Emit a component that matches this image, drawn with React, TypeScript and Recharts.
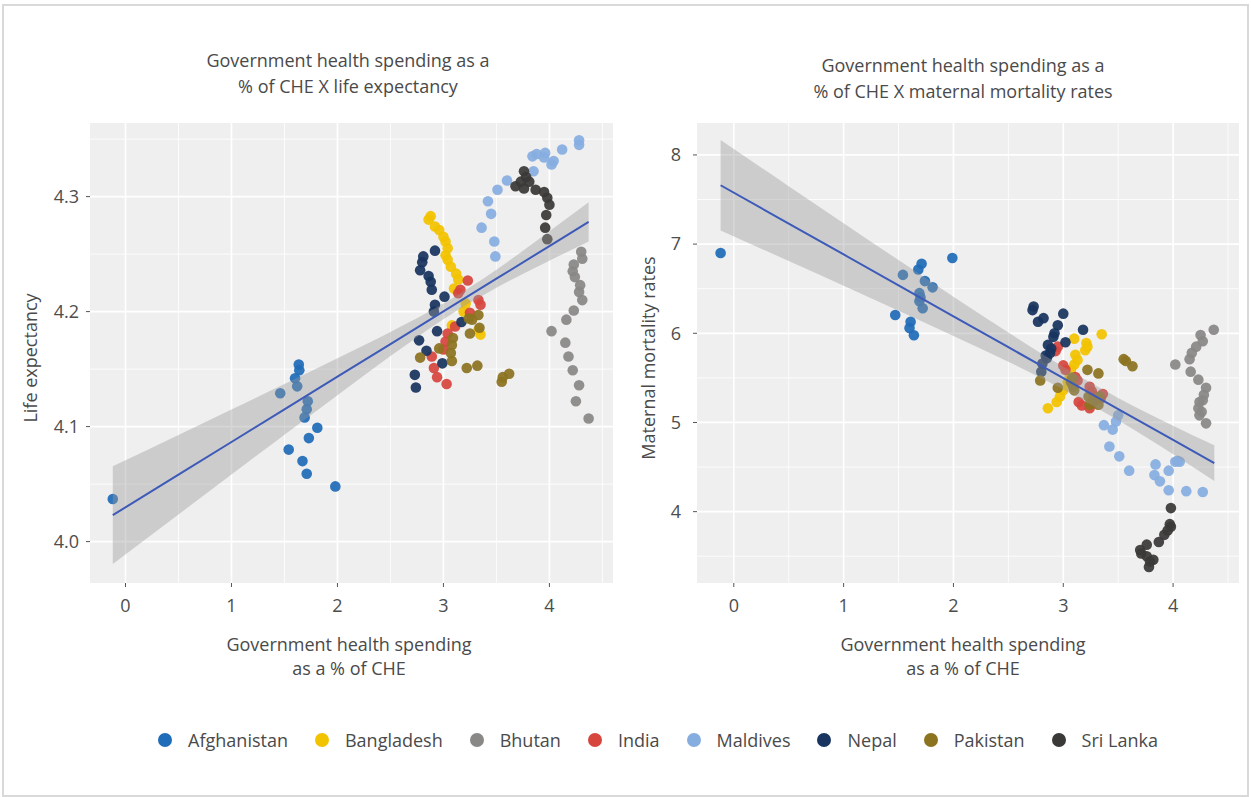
import React from 'react';
import { ComposedChart, Scatter, Area, Line, XAxis, YAxis, CartesianGrid } from 'recharts';

type Pt = [number, number];

const countries = ['Afghanistan', 'Bangladesh', 'Bhutan', 'India', 'Maldives', 'Nepal', 'Pakistan', 'Sri Lanka'];
const countryColors = ['#1f6cb8', '#f2c300', '#8a8886', '#d6463e', '#86ade0', '#18345f', '#8c7320', '#3b3937'];

// ---- Life expectancy panel (x = gov. health spending, y = life expectancy) ----
const lifeAfghanistan: Pt[] = [[-0.12, 4.037], [1.46, 4.129], [1.6, 4.142], [1.62, 4.135], [1.635, 4.154], [1.64, 4.149], [1.72, 4.122], [1.71, 4.115], [1.69, 4.108], [1.81, 4.099], [1.73, 4.09], [1.54, 4.08], [1.67, 4.07], [1.71, 4.059], [1.98, 4.048]];
const lifeBangladesh: Pt[] = [[2.88, 4.283], [2.86, 4.28], [2.92, 4.274], [2.96, 4.271], [3.0, 4.265], [3.02, 4.261], [3.04, 4.255], [3.02, 4.249], [3.04, 4.245], [3.07, 4.239], [3.12, 4.233], [3.14, 4.228], [3.1, 4.22], [3.21, 4.207], [3.19, 4.2], [3.08, 4.188], [3.35, 4.18], [3.33, 4.184]];
const lifeBhutan: Pt[] = [[4.3, 4.252], [4.31, 4.246], [4.23, 4.241], [4.22, 4.235], [4.24, 4.23], [4.29, 4.223], [4.28, 4.217], [4.31, 4.21], [4.23, 4.201], [4.16, 4.193], [4.02, 4.183], [4.15, 4.173], [4.18, 4.161], [4.22, 4.149], [4.28, 4.136], [4.25, 4.122], [4.37, 4.107]];
const lifeIndia: Pt[] = [[3.23, 4.227], [3.16, 4.219], [3.14, 4.216], [3.33, 4.21], [3.35, 4.206], [3.25, 4.199], [3.11, 4.187], [3.04, 4.181], [3.02, 4.174], [3.0, 4.167], [2.89, 4.161], [2.91, 4.151], [2.94, 4.143], [3.03, 4.137]];
const lifeMaldives: Pt[] = [[3.49, 4.248], [3.48, 4.261], [3.36, 4.273], [3.45, 4.285], [3.42, 4.296], [3.51, 4.306], [3.6, 4.314], [3.85, 4.322], [3.84, 4.335], [3.88, 4.337], [3.96, 4.338], [3.95, 4.334], [4.02, 4.328], [4.04, 4.331], [4.12, 4.341], [4.28, 4.345], [4.28, 4.349]];
const lifeNepal: Pt[] = [[2.92, 4.253], [2.81, 4.248], [2.8, 4.243], [2.78, 4.236], [2.86, 4.231], [2.88, 4.226], [2.89, 4.219], [3.01, 4.213], [2.92, 4.206], [2.91, 4.2], [3.17, 4.191], [2.94, 4.183], [2.77, 4.175], [2.84, 4.166], [2.99, 4.155], [2.73, 4.145], [2.74, 4.134]];
const lifePakistan: Pt[] = [[3.33, 4.197], [3.27, 4.193], [3.24, 4.194], [3.34, 4.186], [3.25, 4.181], [3.09, 4.177], [3.08, 4.171], [2.96, 4.168], [3.07, 4.164], [3.08, 4.157], [2.78, 4.16], [3.22, 4.151], [3.32, 4.153], [3.55, 4.139], [3.56, 4.143], [3.62, 4.146]];
const lifeSriLanka: Pt[] = [[3.76, 4.322], [3.78, 4.317], [3.73, 4.313], [3.68, 4.309], [3.76, 4.307], [3.81, 4.313], [3.87, 4.306], [3.95, 4.304], [3.98, 4.299], [4.0, 4.293], [3.97, 4.284], [3.96, 4.273], [3.98, 4.263]];

const lifeFitX = [-0.12, 0.5, 1, 1.5, 2, 2.5, 3, 3.5, 4, 4.37];
const lifeFitY = [4.023, 4.0582, 4.0866, 4.115, 4.1434, 4.1718, 4.2002, 4.2286, 4.257, 4.278];
const lifeFitLow = [3.9805, 4.0236, 4.0583, 4.0929, 4.1273, 4.1613, 4.1934, 4.2207, 4.2442, 4.261];
const lifeFitHigh = [4.0655, 4.0928, 4.1149, 4.1371, 4.1595, 4.1823, 4.207, 4.2365, 4.2698, 4.295];

const lifeXTicks = [0, 1, 2, 3, 4];
const lifeXMinor = [0.5, 1.5, 2.5, 3.5, 4.5];
const lifeYTicks = [4.0, 4.1, 4.2, 4.3];
const lifeYMinor = [4.05, 4.15, 4.25, 4.35];

// ---- Maternal mortality panel ----
const mmrAfghanistan: Pt[] = [[-0.12, 6.9], [1.99, 6.845], [1.71, 6.78], [1.68, 6.715], [1.54, 6.655], [1.74, 6.585], [1.81, 6.515], [1.69, 6.45], [1.7, 6.4], [1.69, 6.36], [1.72, 6.28], [1.47, 6.205], [1.61, 6.13], [1.6, 6.058], [1.64, 5.978]];
const mmrBangladesh: Pt[] = [[3.35, 5.99], [3.1, 5.94], [3.21, 5.89], [3.2, 5.81], [3.11, 5.76], [3.13, 5.7], [3.1, 5.65], [3.07, 5.59], [3.06, 5.51], [3.0, 5.36], [2.97, 5.29], [2.94, 5.23], [2.86, 5.16], [3.22, 5.85], [3.04, 5.45]];
const mmrBhutan: Pt[] = [[4.37, 6.04], [4.25, 5.98], [4.27, 5.91], [4.21, 5.85], [4.17, 5.78], [4.15, 5.71], [4.02, 5.65], [4.16, 5.57], [4.23, 5.48], [4.3, 5.39], [4.28, 5.31], [4.27, 5.25], [4.24, 5.23], [4.23, 5.16], [4.24, 5.08], [4.3, 4.99], [4.26, 5.12]];
const mmrIndia: Pt[] = [[2.95, 5.85], [2.93, 5.8], [3.0, 5.64], [3.02, 5.59], [3.11, 5.51], [3.13, 5.47], [3.24, 5.4], [3.26, 5.35], [3.36, 5.32], [3.34, 5.27], [3.14, 5.23], [3.17, 5.19], [3.24, 5.16], [3.28, 5.3]];
const mmrMaldives: Pt[] = [[3.5, 5.08], [3.48, 5.01], [3.37, 4.97], [3.45, 4.92], [3.42, 4.73], [3.51, 4.62], [3.6, 4.46], [3.84, 4.53], [3.83, 4.41], [3.88, 4.34], [3.96, 4.46], [3.96, 4.24], [4.02, 4.56], [4.06, 4.56], [4.12, 4.23], [4.27, 4.22], [4.04, 4.57]];
const mmrNepal: Pt[] = [[2.73, 6.3], [2.72, 6.26], [2.82, 6.17], [2.77, 6.13], [3.0, 6.22], [2.95, 6.09], [3.18, 6.04], [2.92, 6.0], [3.02, 5.9], [2.91, 5.96], [2.89, 5.83], [2.88, 5.78], [2.85, 5.72], [2.81, 5.66], [2.8, 5.57], [2.86, 5.87], [2.84, 5.75]];
const mmrPakistan: Pt[] = [[3.55, 5.71], [3.57, 5.69], [3.63, 5.63], [3.22, 5.59], [3.32, 5.55], [2.79, 5.47], [2.95, 5.39], [3.08, 5.5], [3.09, 5.4], [3.23, 5.29], [3.27, 5.23], [3.32, 5.2], [3.33, 5.29], [3.24, 5.2], [3.07, 5.45], [3.1, 5.36]];
const mmrSriLanka: Pt[] = [[3.98, 4.04], [3.98, 3.83], [3.97, 3.86], [3.95, 3.79], [3.92, 3.74], [3.87, 3.66], [3.76, 3.63], [3.7, 3.57], [3.71, 3.53], [3.76, 3.5], [3.79, 3.44], [3.78, 3.38], [3.82, 3.46]];

const mmrFitX = [-0.12, 0.5, 1, 1.5, 2, 2.5, 3, 3.5, 4, 4.375];
const mmrFitY = [7.66, 7.2302, 6.8836, 6.537, 6.1904, 5.8438, 5.4972, 5.1506, 4.804, 4.544];
const mmrFitLow = [7.1535, 6.8106, 6.5329, 6.2533, 5.9703, 5.6797, 5.3709, 5.0261, 4.6442, 4.344];
const mmrFitHigh = [8.1665, 7.6498, 7.2343, 6.8207, 6.4105, 6.0079, 5.6235, 5.2751, 4.9638, 4.744];

const mmrXTicks = [0, 1, 2, 3, 4];
const mmrXMinor = [0.5, 1.5, 2.5, 3.5, 4.5];
const mmrYTicks = [4, 5, 6, 7, 8];
const mmrYMinor = [3.5, 4.5, 5.5, 6.5, 7.5];

const lifeSeries = [lifeAfghanistan, lifeBangladesh, lifeBhutan, lifeIndia, lifeMaldives, lifeNepal, lifePakistan, lifeSriLanka];
const mmrSeries = [mmrAfghanistan, mmrBangladesh, mmrBhutan, mmrIndia, mmrMaldives, mmrNepal, mmrPakistan, mmrSriLanka];

const FONT = "'Open Sans', 'DejaVu Sans', sans-serif";
const TEXT = '#4d4d4d';

type PanelProps = {
  left: number;
  width: number;
  height: number;
  margin: { top: number; right: number; bottom: number; left: number };
  yAxisWidth: number;
  yTickMargin: number;
  xDomain: [number, number];
  yDomain: [number, number];
  xTicks: number[];
  xMinor: number[];
  yTicks: number[];
  yMinor: number[];
  series: Pt[][];
  fitX: number[];
  fitY: number[];
  fitLow: number[];
  fitHigh: number[];
  yFmt: (v: number) => string;
};

function Panel(p: PanelProps) {
  const fitData = p.fitX.map((x, i) => ({ x, fit: p.fitY[i], band: [p.fitLow[i], p.fitHigh[i]] }));
  const tickStyle = { fill: TEXT, fontSize: 18, fontFamily: FONT };
  return (
    <div style={{ position: 'absolute', left: p.left, top: 0 }}>
      <ComposedChart width={p.width} height={p.height} data={fitData} margin={p.margin}>
        <CartesianGrid
          fill="#efefef"
          fillOpacity={1}
          stroke="#ffffff"
          strokeWidth={1.7}
          horizontalValues={p.yTicks}
          verticalValues={p.xTicks}
        />
        <CartesianGrid
          stroke="#ffffff"
          strokeWidth={0.8}
          horizontalValues={p.yMinor}
          verticalValues={p.xMinor}
        />
        <XAxis
          type="number"
          dataKey="x"
          domain={p.xDomain}
          ticks={p.xTicks}
          allowDataOverflow
          axisLine={false}
          tickLine={{ stroke: '#555' }}
          tickSize={4}
          tickMargin={12}
          height={40}
          tick={tickStyle}
          interval={0}
        />
        <YAxis
          type="number"
          dataKey="y"
          domain={p.yDomain}
          ticks={p.yTicks}
          allowDataOverflow
          axisLine={false}
          tickLine={{ stroke: '#555' }}
          tickSize={4}
          tickMargin={p.yTickMargin}
          width={p.yAxisWidth}
          tick={tickStyle}
          tickFormatter={p.yFmt}
          interval={0}
        />
        {p.series.map((s, i) => (
          <Scatter
            key={countries[i]}
            name={countries[i]}
            data={s.map(([x, y]) => ({ x, y }))}
            isAnimationActive={false}
            fill={countryColors[i]}
            shape={(props: any) => (
              <circle cx={props.cx} cy={props.cy} r={5.3} fill={countryColors[i]} fillOpacity={0.93} />
            )}
          />
        ))}
        <Area
          type="monotone"
          dataKey="band"
          stroke="none"
          fill="#999999"
          fillOpacity={0.4}
          isAnimationActive={false}
          activeDot={false}
          dot={false}
          zIndex={700}
        />
        <Line
          type="linear"
          dataKey="fit"
          stroke="#3d5ab8"
          strokeWidth={2}
          dot={false}
          activeDot={false}
          isAnimationActive={false}
          zIndex={800}
        />
      </ComposedChart>
    </div>
  );
}

const textBase: React.CSSProperties = {
  position: 'absolute',
  fontFamily: FONT,
  fontSize: 18,
  color: '#4a4a4a',
  textAlign: 'center',
  lineHeight: '26px',
  whiteSpace: 'nowrap',
};

export default function App() {
  return (
    <div
      style={{
        position: 'absolute',
        left: 0,
        top: 0,
        width: 1251,
        height: 797,
        background: '#ffffff',
        overflow: 'hidden',
        fontFamily: FONT,
      }}
    >
      <div
        style={{
          position: 'absolute',
          left: 2,
          top: 4,
          width: 1243,
          height: 789,
          border: '2px solid #d9d9d9',
        }}
      />

      {/* titles */}
      <div style={{ ...textBase, left: 198, width: 300, top: 47 }}>
        Government health spending as a<br />% of CHE X life expectancy
      </div>
      <div style={{ ...textBase, left: 813, width: 300, top: 52 }}>
        Government health spending as a<br />% of CHE X maternal mortality rates
      </div>

      <Panel
        left={0}
        width={640}
        height={640}
        margin={{ top: 123, right: 27, bottom: 17, left: 30 }}
        yAxisWidth={60}
        yTickMargin={7}
        xDomain={[-0.335, 4.6]}
        yDomain={[3.964, 4.364]}
        xTicks={lifeXTicks}
        xMinor={lifeXMinor}
        yTicks={lifeYTicks}
        yMinor={lifeYMinor}
        series={lifeSeries}
        fitX={lifeFitX}
        fitY={lifeFitY}
        fitLow={lifeFitLow}
        fitHigh={lifeFitHigh}
        yFmt={(v) => v.toFixed(1)}
      />
      <Panel
        left={620}
        width={625}
        height={640}
        margin={{ top: 123, right: 6, bottom: 17, left: 17 }}
        yAxisWidth={60}
        yTickMargin={12}
        xDomain={[-0.335, 4.6]}
        yDomain={[3.2, 8.358]}
        xTicks={mmrXTicks}
        xMinor={mmrXMinor}
        yTicks={mmrYTicks}
        yMinor={mmrYMinor}
        series={mmrSeries}
        fitX={mmrFitX}
        fitY={mmrFitY}
        fitLow={mmrFitLow}
        fitHigh={mmrFitHigh}
        yFmt={(v) => String(v)}
      />

      {/* axis titles */}
      <div style={{ ...textBase, left: 199, width: 300, top: 632, lineHeight: '24px' }}>
        Government health spending<br />as a % of CHE
      </div>
      <div style={{ ...textBase, left: 813, width: 300, top: 632, lineHeight: '24px' }}>
        Government health spending<br />as a % of CHE
      </div>
      <div
        style={{
          ...textBase,
          left: 30 - 100,
          top: 358 - 13,
          width: 200,
          transform: 'rotate(-90deg)',
        }}
      >
        Life expectancy
      </div>
      <div
        style={{
          ...textBase,
          left: 648 - 150,
          top: 358 - 13,
          width: 300,
          transform: 'rotate(-90deg)',
        }}
      >
        Maternal mortality rates
      </div>

      {/* legend */}
      <div
        style={{
          position: 'absolute',
          left: 0,
          width: 1251,
          top: 727,
          height: 26,
          display: 'flex',
          justifyContent: 'center',
          alignItems: 'center',
          paddingLeft: 65,
          boxSizing: 'border-box',
        }}
      >
        {countries.map((c, i) => (
          <div key={c} style={{ display: 'flex', alignItems: 'center', marginRight: i < countries.length - 1 ? 27 : 0 }}>
            <div
              style={{
                width: 14,
                height: 14,
                borderRadius: 7,
                background: countryColors[i],
                marginRight: 16,
              }}
            />
            <span style={{ fontFamily: FONT, fontSize: 18, color: '#4a4a4a' }}>{c}</span>
          </div>
        ))}
      </div>
    </div>
  );
}
